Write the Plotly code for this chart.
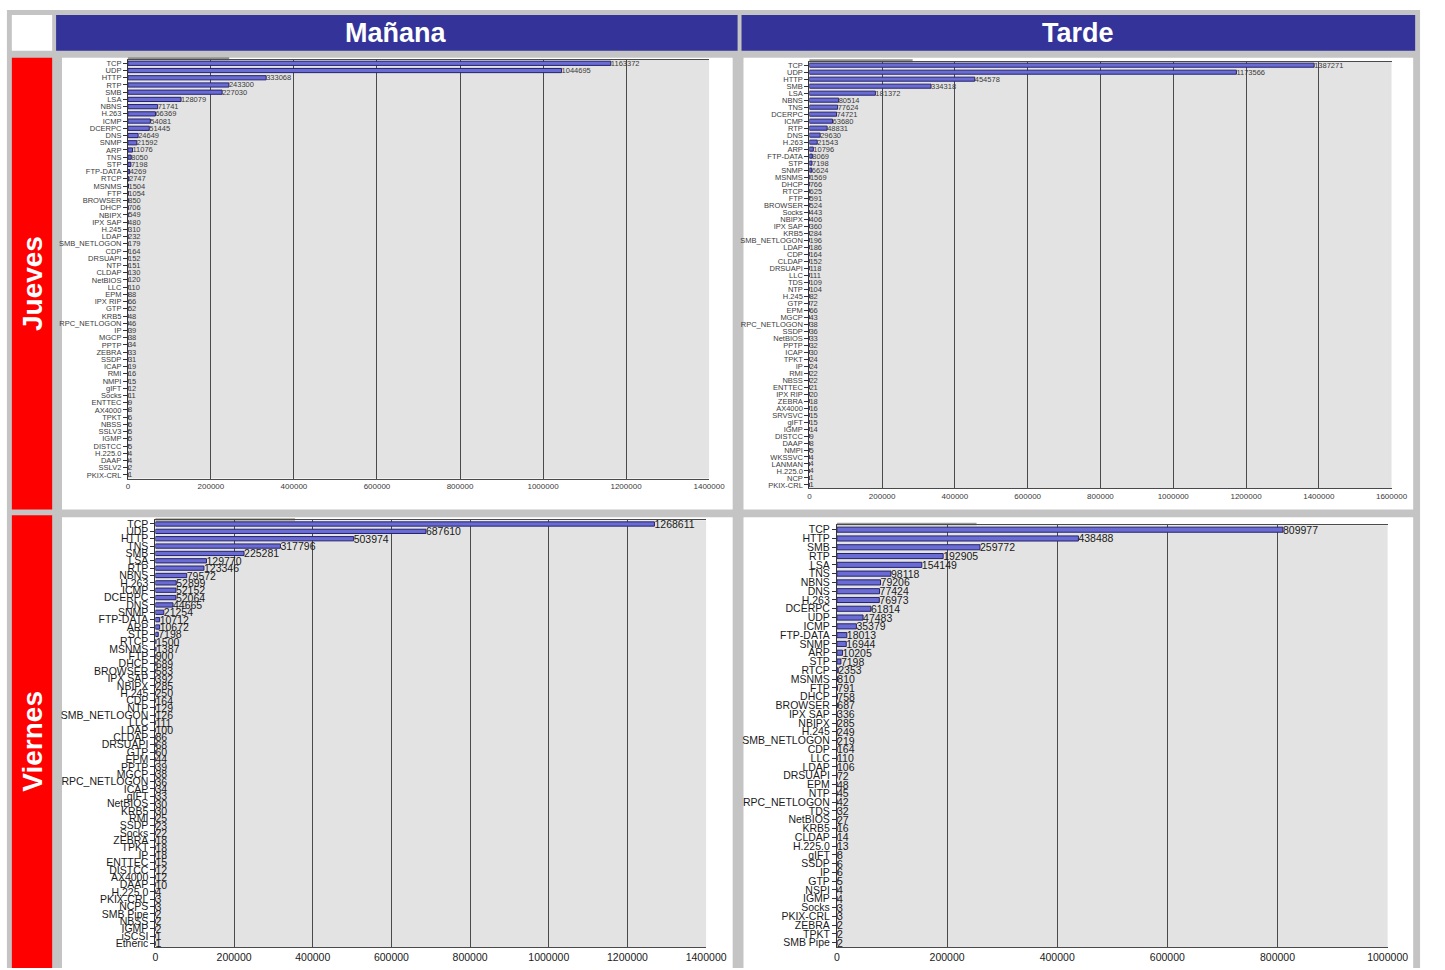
import plotly.graph_objects as go

W, H = 1445, 970

# ---- Jueves / Mañana ----
jm_proto = ["TCP", "UDP", "HTTP", "RTP", "SMB", "LSA", "NBNS", "H.263", "ICMP", "DCERPC",
            "DNS", "SNMP", "ARP", "TNS", "STP", "FTP-DATA", "RTCP", "MSNMS", "FTP", "BROWSER",
            "DHCP", "NBIPX", "IPX SAP", "H.245", "LDAP", "SMB_NETLOGON", "CDP", "DRSUAPI", "NTP", "CLDAP",
            "NetBIOS", "LLC", "EPM", "IPX RIP", "GTP", "KRB5", "RPC_NETLOGON", "IP", "MGCP", "PPTP",
            "ZEBRA", "SSDP", "ICAP", "RMI", "NMPI", "gIFT", "Socks", "ENTTEC", "AX4000", "TPKT",
            "NBSS", "SSLV3", "IGMP", "DISTCC", "H.225.0", "DAAP", "SSLV2", "PKIX-CRL"]
jm_count = [1163372, 1044695, 333068, 243300, 227030, 128079, 71741, 66369, 54081, 51445,
            24649, 21592, 11076, 8050, 7198, 4269, 2747, 1504, 1054, 850,
            706, 549, 480, 310, 232, 179, 164, 152, 151, 130,
            120, 110, 88, 66, 52, 48, 46, 39, 38, 34,
            33, 31, 19, 16, 15, 12, 11, 9, 8, 6,
            6, 5, 5, 5, 4, 4, 2, 1]

# ---- Jueves / Tarde ----
jt_proto = ["TCP", "UDP", "HTTP", "SMB", "LSA", "NBNS", "TNS", "DCERPC", "ICMP", "RTP",
            "DNS", "H.263", "ARP", "FTP-DATA", "STP", "SNMP", "MSNMS", "DHCP", "RTCP", "FTP",
            "BROWSER", "Socks", "NBIPX", "IPX SAP", "KRB5", "SMB_NETLOGON", "LDAP", "CDP", "CLDAP", "DRSUAPI",
            "LLC", "TDS", "NTP", "H.245", "GTP", "EPM", "MGCP", "RPC_NETLOGON", "SSDP", "NetBIOS",
            "PPTP", "ICAP", "TPKT", "IP", "RMI", "NBSS", "ENTTEC", "IPX RIP", "ZEBRA", "AX4000",
            "SRVSVC", "gIFT", "IGMP", "DISTCC", "DAAP", "NMPI", "WKSSVC", "LANMAN", "H.225.0", "NCP",
            "PKIX-CRL"]
jt_count = [1387271, 1173566, 454578, 334318, 181372, 80514, 77624, 74721, 63680, 48831,
            29630, 21543, 10796, 8069, 7198, 6624, 1569, 766, 625, 591,
            524, 443, 406, 360, 284, 196, 186, 164, 152, 118,
            111, 109, 104, 82, 72, 66, 43, 38, 36, 33,
            32, 30, 24, 24, 22, 22, 21, 20, 18, 16,
            15, 15, 14, 9, 8, 5, 4, 4, 4, 1,
            1]

# ---- Viernes / Mañana ----
vm_proto = ["TCP", "UDP", "HTTP", "TNS", "SMB", "LSA", "RTP", "NBNS", "H.263", "ICMP",
            "DCERPC", "DNS", "SNMP", "FTP-DATA", "ARP", "STP", "RTCP", "MSNMS", "FTP", "DHCP",
            "BROWSER", "IPX SAP", "NBIPX", "H.245", "CDP", "NTP", "SMB_NETLOGON", "LLC", "LDAP", "CLDAP",
            "DRSUAPI", "GTP", "EPM", "PPTP", "MGCP", "RPC_NETLOGON", "ICAP", "gIFT", "NetBIOS", "KRB5",
            "RMI", "SSDP", "Socks", "ZEBRA", "TPKT", "IP", "ENTTEC", "DISTCC", "AX4000", "DAAP",
            "H.225.0", "PKIX-CRL", "NCPS", "SMB Pipe", "NBSS", "IGMP", "iSCSI", "Etheric"]
vm_count = [1268611, 687610, 503974, 317796, 225281, 129770, 123346, 79572, 52899, 52152,
            52064, 44665, 21254, 10712, 10672, 7198, 1500, 1387, 900, 689,
            583, 392, 285, 250, 164, 129, 126, 111, 100, 86,
            68, 60, 44, 39, 38, 36, 34, 33, 30, 30,
            25, 23, 22, 18, 18, 18, 15, 12, 12, 10,
            4, 3, 3, 2, 2, 2, 1, 1]

# ---- Viernes / Tarde ----
vt_proto = ["TCP", "HTTP", "SMB", "RTP", "LSA", "TNS", "NBNS", "DNS", "H.263", "DCERPC",
            "UDP", "ICMP", "FTP-DATA", "SNMP", "ARP", "STP", "RTCP", "MSNMS", "FTP", "DHCP",
            "BROWSER", "IPX SAP", "NBIPX", "H.245", "SMB_NETLOGON", "CDP", "LLC", "LDAP", "DRSUAPI", "EPM",
            "NTP", "RPC_NETLOGON", "TDS", "NetBIOS", "KRB5", "CLDAP", "H.225.0", "gIFT", "SSDP", "IP",
            "GTP", "NSPI", "IGMP", "Socks", "PKIX-CRL", "ZEBRA", "TPKT", "SMB Pipe"]
vt_count = [809977, 438488, 259772, 192905, 154149, 98118, 79206, 77424, 76973, 61814,
            47483, 35379, 18013, 16944, 10205, 7198, 2353, 810, 791, 758,
            687, 336, 285, 249, 219, 164, 110, 106, 72, 48,
            45, 42, 32, 27, 16, 14, 13, 8, 6, 6,
            5, 4, 4, 3, 3, 2, 2, 2]

x_max = [1400000, 1600000, 1400000, 1000000]

# plot-area boxes in pixels: left, right, top, bottom
boxes = [(127, 718, 57, 478), (820, 1412, 59, 488), (155, 715, 520, 949), (848, 1408, 525, 949)]
label_size = [7.5, 7.5, 10.5, 10.5]
tick_size = [8, 8, 10.5, 10.5]
label_color = ["#3a3a3a", "#3a3a3a", "#1a1a1a", "#1a1a1a"]

series = [(jm_proto, jm_count), (jt_proto, jt_count), (vm_proto, vm_count), (vt_proto, vt_count)]

BAR_FILL = "#6b6bd4"
BAR_EDGE = "#23236e"
GRID = "#4a4a4a"
PLOT_BG = "#e3e3e3"
FONT = "Liberation Sans, Arial, sans-serif"


def px_x(v):
    return v / W


def px_y(v):
    return 1 - v / H


def paper_rect(x0, x1, y0, y1, col):
    return dict(type="rect", xref="paper", yref="paper", x0=px_x(x0), x1=px_x(x1),
                y0=px_y(y1), y1=px_y(y0), fillcolor=col, line=dict(width=0), layer="below")


fig = go.Figure()
shapes = []

# table frame: grey background, white corner, blue column heads, red row heads, white panels
shapes.append(paper_rect(4, 1441, 7, 970, "#c4c4c4"))
cells = [
    ((9, 50, 12, 48), "#ffffff"),
    ((54, 747, 12, 48), "#333399"),
    ((751, 1436, 12, 48), "#333399"),
    ((9, 50, 55, 509), "#ff0000"),
    ((9, 50, 515, 970), "#ff0000"),
    ((60, 742, 55, 509), "#ffffff"),
    ((753, 1434, 55, 509), "#ffffff"),
    ((60, 742, 517, 970), "#ffffff"),
    ((753, 1434, 517, 970), "#ffffff"),
]
for (x0, x1, y0, y1), col in cells:
    shapes.append(paper_rect(x0, x1, y0, y1, col))

layout_axes = {}
for i, ((names, vals), (l, r, t, b)) in enumerate(zip(series, boxes)):
    k = "" if i == 0 else str(i + 1)
    xa, ya = "x" + k, "y" + k
    fig.add_trace(go.Bar(
        x=vals, y=names, orientation="h", xaxis=xa, yaxis=ya,
        marker=dict(color=BAR_FILL, line=dict(color=BAR_EDGE, width=1)),
        width=0.58,
        text=[str(v) for v in vals], textposition="outside", textangle=0,
        constraintext="none", cliponaxis=False,
        textfont=dict(family=FONT, size=label_size[i], color=label_color[i]),
        hoverinfo="x+y", showlegend=False,
    ))
    n = len(names)
    layout_axes["xaxis" + k] = dict(
        domain=[px_x(l), px_x(r)], anchor=ya, range=[0, x_max[i]],
        tickmode="linear", tick0=0, dtick=200000, tickformat="d",
        showgrid=True, gridcolor=GRID, gridwidth=1, zeroline=False,
        showline=True, linecolor=GRID, linewidth=1, mirror=True,
        ticks="", tickfont=dict(family=FONT, size=tick_size[i], color=label_color[i]),
        fixedrange=True,
    )
    layout_axes["yaxis" + k] = dict(
        domain=[px_y(b), px_y(t)], anchor=xa, type="category",
        range=[n - 0.5, -0.5], tickmode="linear", tick0=0, dtick=1,
        showgrid=False, zeroline=False, showline=True, linecolor="#333333", linewidth=1,
        ticks="outside", ticklen=4, tickcolor="#333333",
        tickfont=dict(family=FONT, size=label_size[i], color=label_color[i]),
        fixedrange=True,
    )
    # grey plot area behind the grid
    shapes.append(dict(type="rect", xref=xa + " domain", yref=ya + " domain", x0=0, x1=1, y0=0, y1=1,
                       fillcolor=PLOT_BG, line=dict(width=0), layer="below"))

# short darker strips along the top edge of each plot frame
for x0, x1, y0, y1, col in [(127, 230, 54.5, 57.5, "#8e8e8e"), (820, 925, 56.5, 59.5, "#8e8e8e"),
                            (155, 297, 518, 520.5, "#a9a48c"), (848, 990, 522.5, 525, "#9a9a9a")]:
    shapes.append(paper_rect(x0, x1, y0, y1, col))

head = dict(xref="paper", yref="paper", showarrow=False, xanchor="center", yanchor="middle")
annotations = [
    dict(text="<b>Mañana</b>", x=px_x(400), y=px_y(30), font=dict(family=FONT, size=27, color="white"), **head),
    dict(text="<b>Tarde</b>", x=px_x(1093), y=px_y(30), font=dict(family=FONT, size=27, color="white"), **head),
    dict(text="<b>Jueves</b>", x=px_x(30), y=px_y(282), textangle=-90,
         font=dict(family=FONT, size=28, color="white"), **head),
    dict(text="<b>Viernes</b>", x=px_x(30), y=px_y(742), textangle=-90,
         font=dict(family=FONT, size=28, color="white"), **head),
]

fig.update_layout(
    width=W, height=H, autosize=False,
    margin=dict(l=0, r=0, t=0, b=0, pad=0),
    paper_bgcolor="white", plot_bgcolor="rgba(0,0,0,0)",
    shapes=shapes, annotations=annotations,
    font=dict(family=FONT),
    bargap=0.4,
    **layout_axes,
)

fig.write_html("out.html", config={"displayModeBar": False})
